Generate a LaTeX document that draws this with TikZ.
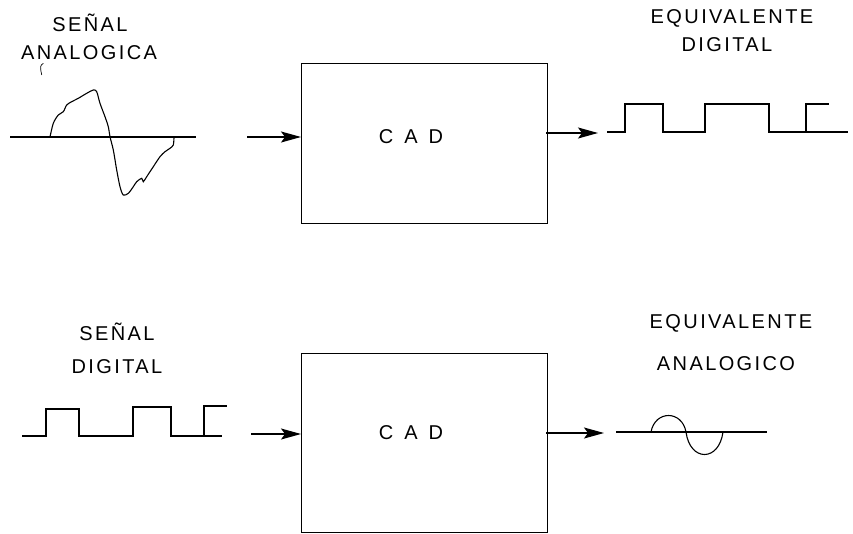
\documentclass[tikz,border=0pt]{standalone}
\usepackage{fontspec}
\usetikzlibrary{arrows.meta}
\newfontfamily\labfont[LetterSpace=12]{Liberation Sans}
\begin{document}
\begin{tikzpicture}[x=1pt,y=-1pt,
  wire/.style={line width=1.1pt},
  blockbox/.style={draw,line width=1.2pt,minimum width=246pt,anchor=north west,inner sep=0pt},
  lab/.style={font=\labfont\fontsize{20}{20}\selectfont,inner sep=0pt},
  arr/.style={line width=1.3pt,-{Stealth[length=20pt,width=11pt,inset=4pt]}}]
\useasboundingbox (0,0) rectangle (853,533);
% ---------- top row ----------
\node[blockbox,minimum height=160pt] (box1) at (301,63) {};
\node[lab] (cad1) at (411,137) {C\hspace{11pt}A\hspace{11pt}D};
\coordinate (in1) at (247,137);
\draw[arr] (in1) -- (in1 -| box1.west);
\coordinate (out1a) at (546,133);
\coordinate (out1b) at (598,133);
\draw[arr] (out1a) -- (out1b);
% analog signal label
\node[lab] (senal1) at (90,23) {SEÑAL};
\node[lab] (analog1) at (89,53) {ANALOGICA};
\draw[line width=0.7pt] (43.3,63.3) .. controls (40,66) .. (41.7,75);
% analog signal
\draw[wire] (10,137) -- (196,137);
\draw[wire] plot[smooth,tension=0.5] coordinates {(50,137) (53.3,123.3) (58.3,115) (63.3,111.7) (66.7,105) (71.7,101.7) (78.3,98.3) (86.7,93.3) (93.3,90) (96.7,91.7) (100,103.3) (105,116.7) (108.3,126.7) (110,136.7) (113.3,150) (116.7,170) (120,186.7) (123.3,195) (128.3,193.3) (133.3,186.7) (136.7,181.7) (141.7,178.3) (143.3,181.7) (146.7,176.7) (153.3,166.7) (160,156.7) (165,151.7) (170,148.3) (173.3,145) (174,137)};
% digital equivalent
\node[lab] (equiv1) at (732,18) {EQUIVALENTE};
\node[lab] (dig1) at (727,45) {DIGITAL};
\draw[wire] (607,132) -- (625,132) -- (625,104) -- (663,104) -- (663,132) -- (705,132) -- (705,104) -- (769,104) -- (769,132) -- (806,132) -- (806,104) -- (829,104);
\draw[wire] (769,132) -- (848,132);
% ---------- bottom row ----------
\node[blockbox,minimum height=179pt] (box2) at (301,353) {};
\node[lab] (cad2) at (411,433) {C\hspace{11pt}A\hspace{11pt}D};
\coordinate (in2) at (251,434);
\draw[arr] (in2) -- (in2 -| box2.west);
\coordinate (out2a) at (546,433);
\coordinate (out2b) at (604,433);
\draw[arr] (out2a) -- (out2b);
% digital signal label
\node[lab] (senal2) at (117,332) {SEÑAL};
\node[lab] (dig2) at (117,367) {DIGITAL};
\draw[wire] (22,436) -- (46,436) -- (46,409) -- (79,409) -- (79,436) -- (133,436) -- (133,407) -- (171,407) -- (171,436) -- (204,436) -- (204,406) -- (227,406);
\draw[wire] (171,436) -- (222,436);
% analog equivalent
\node[lab] (equiv2) at (731,323) {EQUIVALENTE};
\node[lab] (analog2) at (726,364) {ANALOGICO};
\draw[wire] (616,432) -- (767,432);
\draw[wire] (651,432) .. controls (655,410) and (682,410) .. (686,432)
  .. controls (690,462) and (719,462) .. (723,432);
\end{tikzpicture}
\end{document}
